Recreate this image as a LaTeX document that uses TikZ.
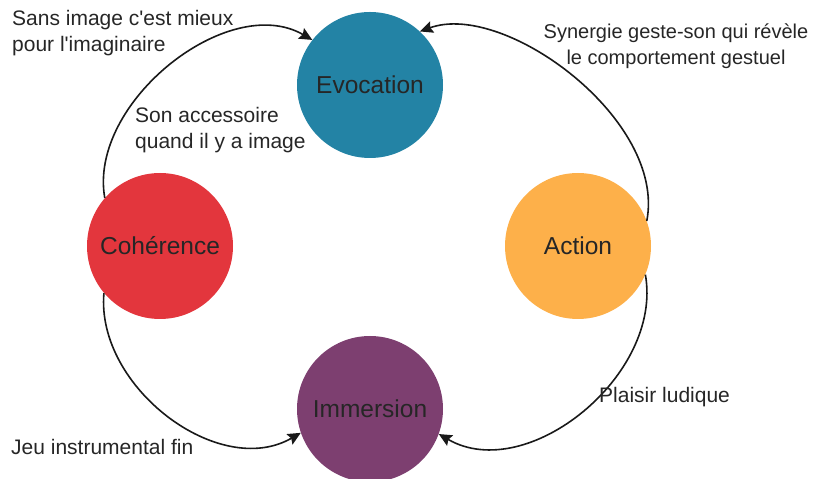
\documentclass[tikz,border=0pt]{standalone}
\usepackage{fontspec}
\setmainfont{Liberation Sans}
\usepackage{tikz}
\usetikzlibrary{arrows.meta}
\definecolor{evoblue}{HTML}{2383A5}
\definecolor{cohred}{HTML}{E3363D}
\definecolor{actorange}{HTML}{FDB04A}
\definecolor{immpurple}{HTML}{7D3F70}
\tikzset{phase/.style = {circle, minimum size=146pt, inner sep=0pt, text=black!85,
                         font=\fontsize{24.5}{29}\selectfont},
         note/.style = {text=black!85, inner sep=0pt, font=\fontsize{21}{25.5}\selectfont},
         link/.style = {-{Stealth[length=13pt,width=12pt,inset=2pt]}, line width=1.6pt, black!90}}

\begin{document}
\begin{tikzpicture}[x=1pt,y=1pt]
    \useasboundingbox (0,0) rectangle (828,479);
    \node[phase, fill=evoblue](evo)at(370,394){Evocation};
    \node[phase, fill=cohred](coh)at(160,233){Cohérence};
    \node[phase, fill=actorange](act)at(578,233){Action};
    \node[phase, fill=immpurple](imm)at(370,70){Immersion};

    \draw[link](coh.139) to[out=100, in=150, looseness=0.95] (evo.142);
    \draw[link](act.20) to[out=79, in=20, out distance=103pt, in distance=90pt] (evo.47);
    \draw[link](act.-23) to[out=-80, in=-30] (imm.-20);
    \draw[link](coh.-140) to[out=-95, in=210] (imm.199);

    \node[note, anchor=west, align=left](sansimg)at(12,446){Sans image c\textquotesingle est mieux\\pour l\textquotesingle imaginaire};
    \node[note, anchor=west, align=left](accessoire)at(135,349){Son accessoire\\quand il y a image};
    \node[note, align=center, font=\fontsize{20}{25.5}\selectfont](synergie)at(676,433){Synergie geste-son qui révèle\\le comportement gestuel};
    \node[note, anchor=west](plaisir)at(599,82){Plaisir ludique};
    \node[note, anchor=west](jeu)at(11,32){Jeu instrumental fin};
\end{tikzpicture}
\end{document}
